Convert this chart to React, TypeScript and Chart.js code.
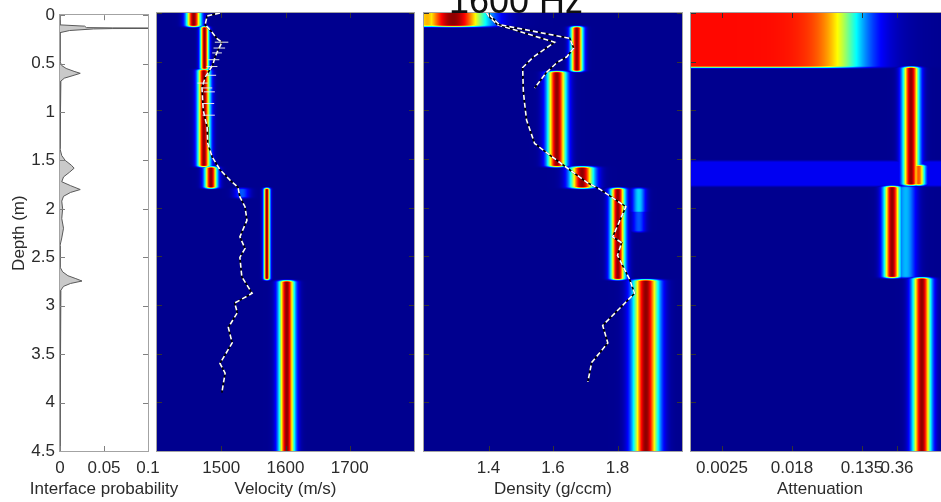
import React, { useEffect, useRef } from "react";
import { Chart, registerables } from "chart.js";
Chart.register(...registerables);

const FONT = "'Liberation Sans', Arial, Helvetica, sans-serif";
const TEXT = "#2b2b2b";
const CW = 960;
const CH = 502;

// ---- shared depth axis ----
const depthTicks = [0, 0.5, 1, 1.5, 2, 2.5, 3, 3.5, 4, 4.5];

// ---- panel 1 : interface probability ----
const probTicks = [0, 0.05, 0.1];
const probTickLabels = ["0", "0.05", "0.1"];
const probDepth = [0, 0.1, 0.113, 0.128, 0.131, 0.133, 0.136, 0.138, 0.142, 0.158, 0.18, 0.48, 0.52, 0.55, 0.58, 0.6, 0.62, 0.65, 0.68, 0.72, 1.38, 1.45, 1.5, 1.55, 1.58, 1.62, 1.67, 1.72, 1.76, 1.8, 1.83, 1.87, 1.92, 2.0, 2.1, 2.2, 2.3, 2.38, 2.6, 2.65, 2.69, 2.72, 2.745, 2.77, 2.8, 2.84, 2.88, 4.5];
const probValue = [0, 0, 0.028, 0.03, 0.06, 0.15, 0.15, 0.06, 0.038, 0.011, 0, 0, 0.002, 0.007, 0.016, 0.023, 0.016, 0.005, 0.001, 0, 0, 0.002, 0.006, 0.013, 0.016, 0.011, 0.004, 0.002, 0.012, 0.023, 0.012, 0.004, 0.002, 0.003, 0.002, 0.004, 0.002, 0, 0, 0.003, 0.009, 0.018, 0.025, 0.012, 0.004, 0.001, 0, 0];

// ---- panel 2 : velocity ----
const velocityTicks = [1500, 1600, 1700];
const velocityTickLabels = ["1500", "1600", "1700"];
// [top depth, bottom depth, centre (m/s), spread (m/s), peak]
const velocityLayers = [
  [0, 0.14, 1457, 7.8, 1],
  [0.14, 0.58, 1474, 4.5, 1],
  [0.58, 1.58, 1473, 6.7, 1],
  [1.58, 1.8, 1484, 6.7, 1],
  [1.8, 1.9, 1532, 8, 0.2],
  [1.8, 2.74, 1571, 3.3, 1],
  [2.75, 4.5, 1602, 8.4, 1],
];
const velocityProfileDepth = [0, 0.03, 0.12, 0.2, 0.26, 0.3, 0.38, 0.46, 0.53, 0.66, 0.77, 1.0, 1.17, 1.34, 1.48, 1.61, 1.72, 1.79, 1.89, 1.99, 2.13, 2.3, 2.42, 2.51, 2.71, 2.88, 2.98, 3.08, 3.23, 3.39, 3.6, 3.7, 3.9];
const velocityProfileValue = [1498, 1478, 1475, 1486, 1493, 1501, 1495, 1490, 1487, 1475, 1470, 1472, 1478, 1479, 1486, 1498, 1514, 1526, 1529, 1537, 1540, 1529, 1537, 1529, 1532, 1548, 1521, 1525, 1511, 1517, 1498, 1506, 1501];
const velocityErrDepth = [0.3, 0.36, 0.41, 0.48, 0.55, 0.64, 0.72, 0.77, 0.81, 0.93, 1.05];
const velocityErrLow = [1490, 1488, 1486, 1480, 1477, 1476, 1463, 1470, 1473, 1470, 1471];
const velocityErrHigh = [1511, 1506, 1501, 1497, 1494, 1492, 1479, 1486, 1490, 1489, 1490];

// ---- panel 3 : density ----
const densityTicks = [1.4, 1.6, 1.8];
const densityTickLabels = ["1.4", "1.6", "1.8"];
const densityLayers = [
  [0, 0.14, 1.29, 0.072, 1],
  [0, 0.14, 1.21, 0.035, 0.7],
  [0.14, 0.6, 1.674, 0.013, 1],
  [0.6, 1.58, 1.612, 0.02, 1],
  [1.58, 1.8, 1.69, 0.025, 1],
  [1.8, 2.74, 1.801, 0.0155, 1],
  [1.8, 2.05, 1.866, 0.014, 0.33],
  [1.8, 2.25, 1.866, 0.014, 0.2],
  [2.74, 4.5, 1.888, 0.027, 1],
];
const densityProfileADepth = [0, 0.04, 0.12, 0.3, 0.45, 0.56, 0.8, 0.93, 1.1, 1.34, 1.46, 1.59, 1.74, 1.81, 1.99, 2.3, 2.36, 2.49, 2.74, 2.88, 3.21, 3.39, 3.59, 3.79];
const densityProfileAValue = [1.394, 1.403, 1.428, 1.605, 1.54, 1.506, 1.508, 1.512, 1.518, 1.543, 1.59, 1.643, 1.705, 1.745, 1.826, 1.785, 1.813, 1.8, 1.838, 1.853, 1.754, 1.77, 1.72, 1.708];
const densityProfileBDepth = [0.02, 0.12, 0.26, 0.36, 0.45, 0.51, 0.61, 0.77];
const densityProfileBValue = [1.403, 1.434, 1.652, 1.664, 1.643, 1.612, 1.58, 1.543];

// ---- panel 4 : attenuation (natural-log axis) ----
const attenuationTicks = [-6, -4, -2, -1];
const attenuationTickLabels = ["0.0025", "0.018", "0.135", "0.36"];
const attenuationLayers = [
  [0.555, 1.77, -0.6, 0.16, 1],
  [1.56, 1.77, -0.38, 0.13, 0.8],
  [1.78, 2.72, -1.14, 0.16, 1],
  [1.78, 2.72, -0.75, 0.2, 0.3],
  [2.72, 4.5, -0.29, 0.18, 1],
];
// [top, bottom, edge (ln), softness, level]
const attenuationPlateaus = [[0, 0.56, -2.3, 0.44, 0.88]];
// [top, bottom, level]
const attenuationFloors = [[1.52, 1.78, 0.1]];

// ---------- helpers ----------
const EDGE = 0.018;
function smooth(u: number) {
  const t = Math.min(1, Math.max(0, 0.5 + u / (2 * EDGE)));
  return t * t * (3 - 2 * t);
}
function depthWeight(d: number, top: number, bottom: number) {
  const a = top <= 0 ? 1 : smooth(d - top);
  const b = bottom >= 4.5 ? 1 : smooth(bottom - d);
  return a * b;
}
function layerField(layers: number[][], d: number, x: number) {
  let m = 0;
  for (const [top, bottom, c, s, p] of layers) {
    const w = depthWeight(d, top, bottom);
    if (w <= 0) continue;
    const z = (x - c) / s;
    const v = w * p * Math.exp(-0.5 * z * z);
    if (v > m) m = v;
  }
  return m;
}
function attenuationField(d: number, x: number) {
  let m = layerField(attenuationLayers, d, x);
  for (const [top, bottom, edge, soft, level] of attenuationPlateaus) {
    const w = depthWeight(d, top, bottom);
    if (w <= 0) continue;
    const v = (w * level) / (1 + Math.exp((x - edge) / soft));
    if (v > m) m = v;
  }
  for (const [top, bottom, level] of attenuationFloors) {
    const v = depthWeight(d, top, bottom) * level;
    if (v > m) m = v;
  }
  return m;
}
function jet(t: number): [number, number, number] {
  const u = 0.0156 + 0.9688 * Math.min(1, Math.max(0, t));
  const f = (k: number) => Math.round(255 * Math.min(1, Math.max(0, 1.5 - Math.abs(4 * u - k))));
  return [f(3), f(2), f(1)];
}

function heatmapPlugin(field?: (d: number, x: number) => number) {
  return {
    id: "heatmap",
    beforeDatasetsDraw(chart: any) {
      if (!field) return;
      const { ctx, chartArea, scales } = chart;
      const x0 = Math.round(chartArea.left);
      const y0 = Math.round(chartArea.top);
      const w = Math.round(chartArea.right) - x0;
      const h = Math.round(chartArea.bottom) - y0;
      if (!(w > 0 && h > 0)) return;
      const img = ctx.createImageData(w, h);
      const xs: number[] = [];
      for (let i = 0; i < w; i++) xs.push(scales.x.getValueForPixel(x0 + i + 0.5));
      for (let j = 0; j < h; j++) {
        const d = scales.y.getValueForPixel(y0 + j + 0.5);
        for (let i = 0; i < w; i++) {
          const [r, g, b] = jet(field(d, xs[i]));
          const k = (j * w + i) * 4;
          img.data[k] = r;
          img.data[k + 1] = g;
          img.data[k + 2] = b;
          img.data[k + 3] = 255;
        }
      }
      ctx.putImageData(img, x0, y0);
    },
  };
}

function framePlugin(xTicks: number[], tickColor: string, title: string) {
  return {
    id: "frame",
    afterDraw(chart: any) {
      const { ctx, chartArea: a, scales } = chart;
      ctx.save();
      ctx.lineWidth = 1;
      ctx.strokeStyle = tickColor;
      ctx.beginPath();
      for (const v of xTicks) {
        const px = Math.round(scales.x.getPixelForValue(v)) + 0.5;
        ctx.moveTo(px, a.top);
        ctx.lineTo(px, a.top + 5);
        ctx.moveTo(px, a.bottom);
        ctx.lineTo(px, a.bottom - 5);
      }
      for (const d of depthTicks) {
        const py = Math.round(scales.y.getPixelForValue(d)) + 0.5;
        ctx.moveTo(a.left, py);
        ctx.lineTo(a.left + 5, py);
        ctx.moveTo(a.right, py);
        ctx.lineTo(a.right - 5, py);
      }
      ctx.stroke();
      ctx.strokeStyle = "#a3a3a3";
      ctx.strokeRect(Math.round(a.left) - 0.5, Math.round(a.top) - 0.5, Math.round(a.right - a.left) + 1, Math.round(a.bottom - a.top) + 1);
      // x-axis title
      ctx.fillStyle = TEXT;
      ctx.font = `17px ${FONT}`;
      ctx.textAlign = "center";
      ctx.textBaseline = "middle";
      ctx.fillText(title, (a.left + a.right) / 2, 489);
      ctx.restore();
    },
  };
}

function profileDatasets(depth: number[], value: number[]) {
  const data = depth.map((d, i) => ({ x: value[i], y: d }));
  return [
    { data, showLine: true, borderColor: "#ffffff", borderWidth: 1.6, borderDash: [5, 3], pointRadius: 0, fill: false },
    { data, showLine: true, borderColor: "#000000", borderWidth: 1.6, pointRadius: 0, fill: false },
  ];
}

type Spec = {
  left: number;
  right: number;
  xMin: number;
  xMax: number;
  xTicks: number[];
  xLabels: string[];
  xTitle: string;
  depthLabels: boolean;
  type: "line" | "scatter";
  indexAxis: "x" | "y";
  field?: (d: number, x: number) => number;
  datasets: any[];
  tickColor: string;
};

function buildChart(canvas: HTMLCanvasElement, s: Spec) {
  const font = { family: FONT, size: 17 };
  return new Chart(canvas, {
    type: s.type,
    data: { datasets: s.datasets },
    options: {
      responsive: false,
      animation: false,
      devicePixelRatio: 1,
      indexAxis: s.indexAxis,
      layout: { padding: { left: s.depthLabels ? 0 : s.left, right: CW - s.right, top: 13, bottom: 0 } },
      plugins: { legend: { display: false }, tooltip: { enabled: false }, title: { display: false } },
      elements: { point: { radius: 0 } },
      scales: {
        x: {
          type: "linear",
          position: "bottom",
          min: s.xMin,
          max: s.xMax,
          grid: { display: false, drawTicks: false },
          border: { display: false },
          afterBuildTicks: (sc: any) => {
            sc.ticks = s.xTicks.map((v) => ({ value: v }));
          },
          afterFit: (sc: any) => {
            sc.height = 51;
          },
          ticks: {
            color: TEXT,
            font,
            padding: 7,
            maxRotation: 0,
            autoSkip: false,
            callback: (_v: any, i: number) => s.xLabels[i],
          },
          title: { display: false },
        },
        y: {
          type: "linear",
          reverse: true,
          min: 0,
          max: 4.5,
          display: s.depthLabels,
          grid: { display: false, drawTicks: false },
          border: { display: false },
          afterBuildTicks: (sc: any) => {
            sc.ticks = depthTicks.map((v) => ({ value: v }));
          },
          afterFit: (sc: any) => {
            sc.width = s.depthLabels ? s.left : 0;
          },
          ticks: { color: TEXT, font, padding: 5, callback: (v: any) => String(v) },
          title: { display: true, text: "Depth (m)", color: TEXT, font, padding: { top: 9, bottom: 0 } },
        },
      },
    } as any,
    plugins: [heatmapPlugin(s.field), framePlugin(s.xTicks, s.tickColor, s.xTitle)],
  } as any);
}

export default function App() {
  const refs = [useRef<HTMLCanvasElement>(null), useRef<HTMLCanvasElement>(null), useRef<HTMLCanvasElement>(null), useRef<HTMLCanvasElement>(null)];

  useEffect(() => {
    const errorBars = velocityErrDepth.map((d, i) => ({
      data: [
        { x: velocityErrLow[i], y: d },
        { x: velocityErrHigh[i], y: d },
      ],
      showLine: true,
      borderColor: "#e8e8e8",
      borderWidth: 1,
      pointRadius: 0,
      fill: false,
    }));
    const specs: Spec[] = [
      {
        left: 60,
        right: 148,
        xMin: 0,
        xMax: 0.1,
        xTicks: probTicks,
        xLabels: probTickLabels,
        xTitle: "Interface probability",
        depthLabels: true,
        type: "line",
        indexAxis: "y",
        datasets: [
          {
            data: probDepth.map((d, i) => ({ x: probValue[i], y: d })),
            borderColor: "#5a5a5a",
            borderWidth: 1,
            backgroundColor: "#c9c9c9",
            fill: "origin",
            pointRadius: 0,
            tension: 0,
          },
        ],
        tickColor: "#808080",
      },
      {
        left: 157,
        right: 414,
        xMin: 1400,
        xMax: 1800,
        xTicks: velocityTicks,
        xLabels: velocityTickLabels,
        xTitle: "Velocity (m/s)",
        depthLabels: false,
        type: "scatter",
        indexAxis: "x",
        field: (d, x) => layerField(velocityLayers, d, x),
        datasets: [...errorBars, ...profileDatasets(velocityProfileDepth, velocityProfileValue)],
        tickColor: "#333333",
      },
      {
        left: 424,
        right: 682,
        xMin: 1.2,
        xMax: 2.0,
        xTicks: densityTicks,
        xLabels: densityTickLabels,
        xTitle: "Density (g/ccm)",
        depthLabels: false,
        type: "scatter",
        indexAxis: "x",
        field: (d, x) => layerField(densityLayers, d, x),
        datasets: [...profileDatasets(densityProfileBDepth, densityProfileBValue), ...profileDatasets(densityProfileADepth, densityProfileAValue)],
        tickColor: "#333333",
      },
      {
        left: 691,
        right: 949,
        xMin: -6.886,
        xMax: 0.486,
        xTicks: attenuationTicks,
        xLabels: attenuationTickLabels,
        xTitle: "Attenuation",
        depthLabels: false,
        type: "scatter",
        indexAxis: "x",
        field: attenuationField,
        datasets: [],
        tickColor: "#333333",
      },
    ];
    const charts = specs.map((s, i) => buildChart(refs[i].current as HTMLCanvasElement, s));
    return () => charts.forEach((c) => c.destroy());
  }, []);

  return (
    <div style={{ position: "fixed", left: 0, top: 0, width: 941, height: 502, overflow: "hidden", background: "#ffffff" }}>
      {refs.map((r, i) => (
        <canvas key={i} ref={r} width={CW} height={CH} style={{ position: "absolute", left: 0, top: 0, width: CW, height: CH }} />
      ))}
      <div
        style={{
          position: "absolute",
          left: 516,
          top: -17,
          transform: "translateX(-50%)",
          fontFamily: FONT,
          fontSize: 36,
          lineHeight: "36px",
          color: "#111111",
          whiteSpace: "nowrap",
        }}
      >
        1600 Hz
      </div>
    </div>
  );
}
